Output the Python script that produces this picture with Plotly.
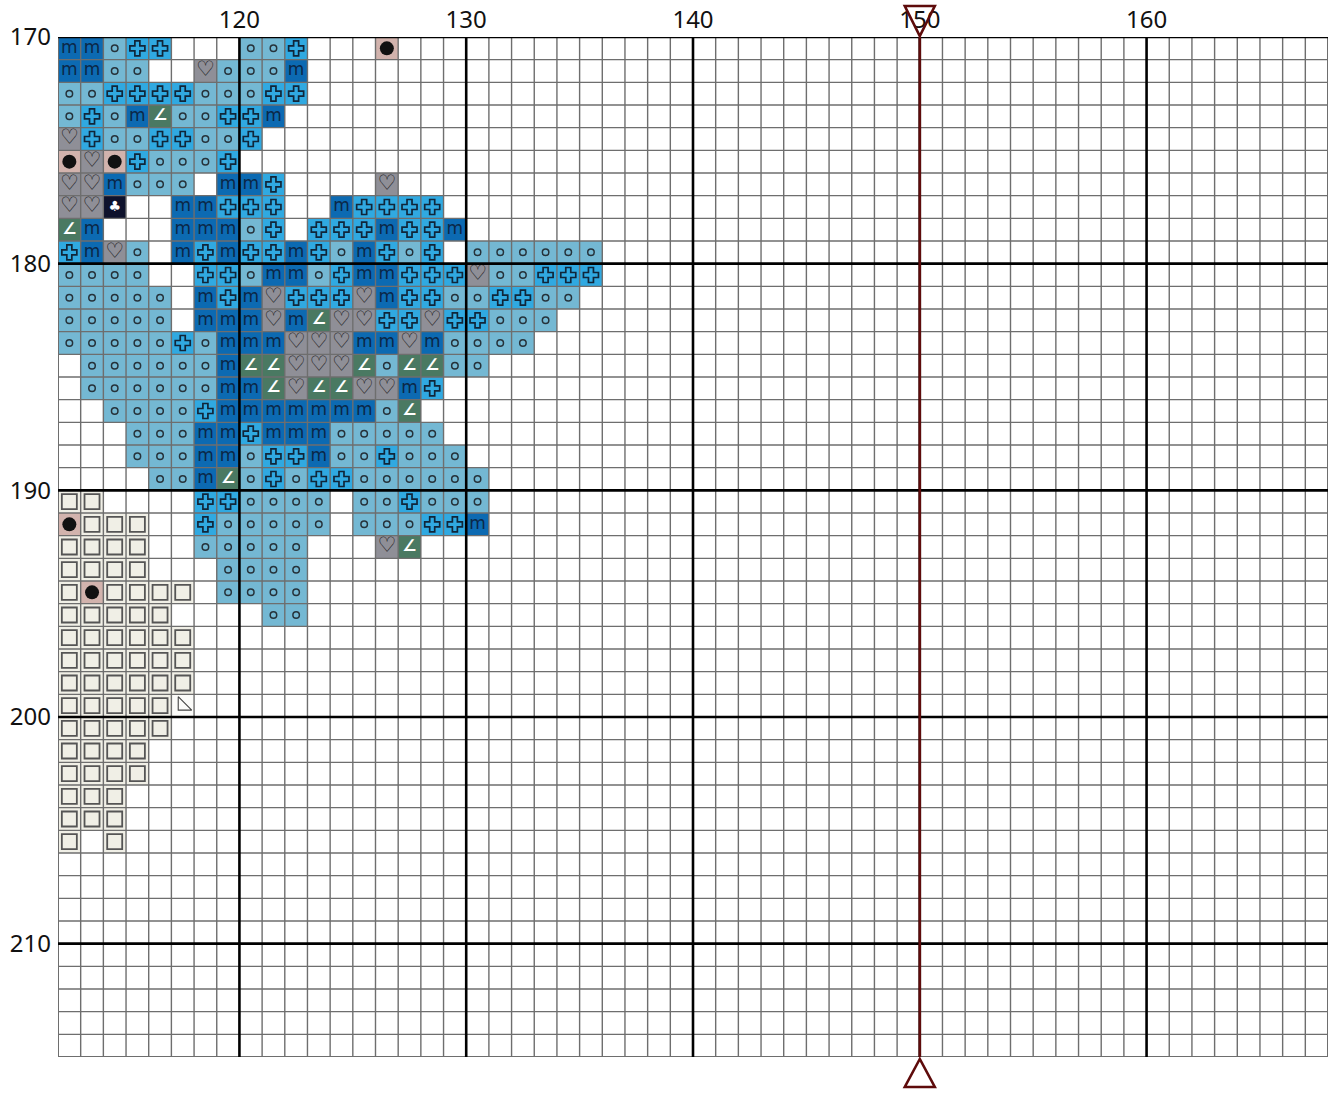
import plotly.graph_objects as go

# ---------------- data ----------------
COL_START, COL_END = 112, 168      # grid columns shown (cell c spans c..c+1)
ROW_START, ROW_END = 170, 215      # grid rows shown
CENTER_COL = 150                   # red centre marker
X_TICKS = [120, 130, 140, 150, 160]
Y_TICKS = [170, 180, 190, 200, 210]

# one string per row (starting at ROW_START), one char per column starting at COL_START
PATTERN = [
    "mmopp...oop...d",            # 170
    "mmoo..hooom",                # 171
    "ooppppooopp",                # 172
    "opomaooppm",                 # 173
    "hpooppoop",                  # 174
    "dhdpooop",                   # 175
    "hhmooo.mmp....h",            # 176
    "hhc..mmppp..mpppp",          # 177
    "am...mmmop.pppmppm",         # 178
    "pmho.mpmppmpompop.oooooo",   # 179
    "oooo..ppommopmmppphooppp",   # 180
    "ooooo.mpmhppphmppooppoo",    # 181
    "ooooo.mmmhmahhpphppooo",     # 182
    "ooooopommmhhhmmhmoooo",      # 183
    ".oooooomaahhhaoaaoo",        # 184
    ".oooooommahaahhmp",          # 185
    "..oooopmmmmmmmoa",           # 186
    "...ooommpmmmooooo",          # 187
    "...ooommoppmoopooo",         # 188
    "....oomaopoppoooooo",        # 189
    "ss....ppoooo.oopooo",        # 190
    "dsss..pooooo.oooppm",        # 191
    "ssss..ooooo...ha",           # 192
    "ssss...oooo",                # 193
    "sdssss.oooo",                # 194
    "sssss....oo",                # 195
    "ssssss",                     # 196
    "ssssss",                     # 197
    "ssssss",                     # 198
    "ssssst",                     # 199
    "sssss",                      # 200
    "ssss",                       # 201
    "ssss",                       # 202
    "sss",                        # 203
    "sss",                        # 204
    "s.s",                        # 205
]

# thread key: code -> cell colour
CODES = ["o", "p", "m", "h", "a", "d", "c", "s", "t"]
CELL_COLORS = ["#74b8d3", "#30a9e1", "#0c6ab2", "#8f8f97", "#4a7962",
               "#d2b3ad", "#0e122c", "#f0efe6", "#fbfbf9"]

# ---------------- build ----------------
ncols = max(len(r) for r in PATTERN)
xs = [COL_START + i + 0.5 for i in range(ncols)]
ys = [ROW_START + j + 0.5 for j in range(len(PATTERN))]
z = []
for row in PATTERN:
    zr = []
    for i in range(ncols):
        ch = row[i] if i < len(row) else "."
        zr.append(CODES.index(ch) if ch in CODES else None)
    z.append(zr)

n = len(CODES)
cscale = []
for i, c in enumerate(CELL_COLORS):
    cscale.append([i / n, c])
    cscale.append([(i + 1) / n, c])

fig = go.Figure()
fig.add_trace(go.Heatmap(x=xs, y=ys, z=z, colorscale=cscale, zmin=-0.5, zmax=n - 0.5,
                         showscale=False, hoverinfo="skip"))


def cells(code):
    px, py = [], []
    for j, row in enumerate(PATTERN):
        for i, ch in enumerate(row):
            if ch == code:
                px.append(xs[i])
                py.append(ys[j])
    return px, py


def add_marker(code, symbol, size, color, line_color, line_width):
    px, py = cells(code)
    fig.add_trace(go.Scatter(x=px, y=py, mode="markers", hoverinfo="skip", cliponaxis=False,
                             marker=dict(symbol=symbol, size=size, color=color,
                                         line=dict(color=line_color, width=line_width))))


def add_text(code, glyph, size, color, family="DejaVu Sans", weight="normal"):
    px, py = cells(code)
    fig.add_trace(go.Scatter(x=px, y=py, mode="text", text=[glyph] * len(px), hoverinfo="skip",
                             textposition="middle center",
                             textfont=dict(size=size, color=color, family=family, weight=weight)))


add_marker("o", "circle-open", 6.5, "#26323a", "#26323a", 1.5)
add_marker("p", "cross-open", 12.5, "#10263a", "#10263a", 1.7)
add_marker("d", "circle", 14, "#111111", "#111111", 0)
add_marker("s", "square", 15, "#f0efe6", "#555555", 1.8)
add_marker("t", "triangle-sw-open", 15, "#444444", "#444444", 1.1)
add_text("m", "m", 17, "#0b2747")
add_text("h", "\u2661", 21, "#141414", weight="bold")
add_text("a", "\u2220", 16, "#ffffff", weight="bold")
add_text("c", "\u2663", 14, "#ffffff")

# ---------------- grid ----------------
shapes = []
minor_c = "#6e6e6e"
for c in range(COL_START, COL_END + 1):
    if c % 10 != 0:
        shapes.append(dict(type="line", xref="x", yref="y", x0=c, x1=c, y0=ROW_START, y1=ROW_END,
                           line=dict(color=minor_c, width=1.4 if c not in (COL_START, COL_END) else 2),
                           layer="above"))
for r in range(ROW_START, ROW_END + 1):
    if r % 10 != 0:
        shapes.append(dict(type="line", xref="x", yref="y", x0=COL_START, x1=COL_END, y0=r, y1=r,
                           line=dict(color=minor_c, width=1.4 if r not in (ROW_START, ROW_END) else 2),
                           layer="above"))
for c in range(COL_START, COL_END + 1):
    if c % 10 == 0:
        shapes.append(dict(type="line", xref="x", yref="y", x0=c, x1=c, y0=ROW_START, y1=ROW_END,
                           line=dict(color="#000000", width=2.6), layer="above"))
for r in range(ROW_START, ROW_END + 1):
    if r % 10 == 0:
        shapes.append(dict(type="line", xref="x", yref="y", x0=COL_START, x1=COL_END, y0=r, y1=r,
                           line=dict(color="#000000", width=2.6), layer="above"))

# centre marker
red = "#5e0b0b"
shapes.append(dict(type="line", xref="x", yref="y", x0=CENTER_COL, x1=CENTER_COL,
                   y0=ROW_START, y1=ROW_END, line=dict(color=red, width=2.6), layer="above"))
shapes.append(dict(type="path", xref="x", yref="paper", xsizemode="pixel", ysizemode="pixel",
                   xanchor=CENTER_COL, yanchor=1, path="M -15,31 L 15,31 L 0,1 Z",
                   line=dict(color=red, width=2.6), layer="above"))
shapes.append(dict(type="path", xref="x", yref="paper", xsizemode="pixel", ysizemode="pixel",
                   xanchor=CENTER_COL, yanchor=0, path="M 0,-2 L -15,-30 L 15,-30 Z",
                   line=dict(color=red, width=2.6), layer="above"))

tick_font = dict(family="Noto Sans", size=24, color="#111111")
fig.update_layout(
    width=1334, height=1095,
    margin=dict(l=58, r=6, t=37, b=38, pad=0),
    paper_bgcolor="white", plot_bgcolor="white",
    showlegend=False,
    shapes=shapes,
    xaxis=dict(range=[COL_START, COL_END], side="top", tickvals=X_TICKS, ticktext=[str(v) for v in X_TICKS],
               showgrid=False, zeroline=False, showline=False, ticks="", tickfont=tick_font,
               ticklabelstandoff=3, automargin=False, fixedrange=True),
    yaxis=dict(range=[ROW_END, ROW_START], tickvals=Y_TICKS, ticktext=[str(v) for v in Y_TICKS],
               showgrid=False, zeroline=False, showline=False, ticks="", tickfont=tick_font,
               ticklabelstandoff=6, automargin=False, fixedrange=True),
)

fig.write_html("out.html", config={"displayModeBar": False},
               post_script="document.body.style.margin='0px';")
